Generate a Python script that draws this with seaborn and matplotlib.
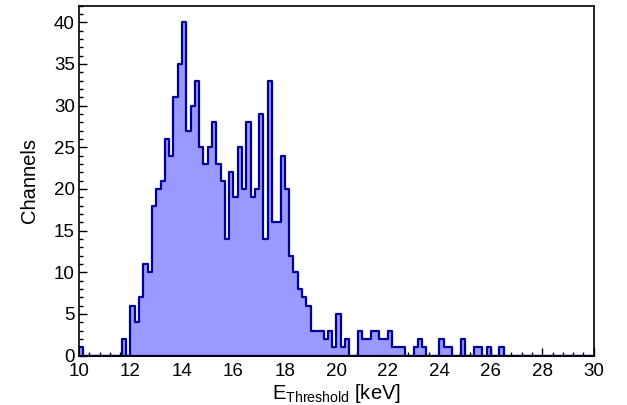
import numpy as np
import pandas as pd
import matplotlib
matplotlib.use("Agg")
import matplotlib.pyplot as plt
import seaborn as sns
from matplotlib.ticker import MultipleLocator

# ---- data: counts per bin, 120 bins of 1/6 keV from 10 to 30 keV ----
x_min = 10.0
x_max = 30.0
n_bins = 120
counts = [
    1, 0, 0, 0, 0, 0, 0, 0, 0, 0,      # 10.0 - 11.67
    2, 0, 6, 4, 7, 11, 10, 18, 20, 21,  # 11.67 - 13.33
    26, 24, 31, 35, 40, 27, 30, 33, 25, 23,  # 13.33 - 15.0
    25, 28, 23, 21, 14, 22, 19, 25, 20, 28,  # 15.0 - 16.67
    19, 20, 29, 14, 33, 16, 16, 24, 20, 12,  # 16.67 - 18.33
    10, 8, 7, 6, 3, 3, 3, 2, 3, 1,      # 18.33 - 20.0
    5, 1, 2, 0, 0, 3, 2, 2, 3, 3,      # 20.0 - 21.67
    2, 2, 3, 1, 1, 1, 0, 0, 1, 2,      # 21.67 - 23.33
    1, 0, 0, 0, 2, 1, 1, 0, 0, 2,      # 23.33 - 25.0
    0, 0, 1, 1, 0, 1, 0, 0, 1, 0,      # 25.0 - 26.67
    0, 0, 0, 0, 0, 0, 0, 0, 0, 0,      # 26.67 - 28.33
    0, 0, 0, 0, 0, 0, 0, 0, 0, 0,      # 28.33 - 30.0
]
x_label = r"E$_{\mathrm{Threshold}}$ [keV]"
y_label = "Channels"

edges = np.linspace(x_min, x_max, n_bins + 1)
centers = 0.5 * (edges[:-1] + edges[1:])
df = pd.DataFrame({"energy": centers, "counts": counts})

sns.set_style("white")
plt.rcParams["font.family"] = ["Liberation Sans", "DejaVu Sans"]
plt.rcParams["mathtext.fontset"] = "custom"
plt.rcParams["mathtext.rm"] = "Liberation Sans"
plt.rcParams["mathtext.it"] = "Liberation Sans:italic"
plt.rcParams["mathtext.bf"] = "Liberation Sans:bold"
plt.rcParams["text.color"] = "black"
plt.rcParams["axes.labelcolor"] = "black"

fig = plt.figure(figsize=(6.27, 4.05), dpi=100)
ax = fig.add_axes([0.126, 0.122, 0.821, 0.864])

sns.histplot(data=df, x="energy", weights="counts", bins=n_bins,
             binrange=(x_min, x_max),
             element="step", fill=True, ax=ax,
             facecolor="#9999ff", edgecolor="#000099", linewidth=1.6,
             alpha=1.0)

ax.set_xlim(x_min, x_max)
ax.set_ylim(0, 42)
ax.xaxis.set_major_locator(MultipleLocator(2))
ax.xaxis.set_minor_locator(MultipleLocator(0.4))
ax.yaxis.set_major_locator(MultipleLocator(5))
ax.yaxis.set_minor_locator(MultipleLocator(1))

ax.tick_params(axis="both", which="both", direction="in", top=False,
               right=False, bottom=True, left=True, colors="black",
               labelcolor="black", labelsize=13.5, width=1)
ax.tick_params(axis="x", which="major", length=6.0, pad=5)
ax.tick_params(axis="x", which="minor", length=3.2)
ax.tick_params(axis="y", which="major", length=6.0, pad=3)
ax.tick_params(axis="y", which="minor", length=3.0)

for s in ax.spines.values():
    s.set_color("black")
    s.set_linewidth(1.2)

ax.set_xlabel(x_label, fontsize=14.5, labelpad=2, color="black")
ax.set_ylabel(y_label, fontsize=14.5, labelpad=11, color="black")

fig.savefig("out.png", dpi=100)
